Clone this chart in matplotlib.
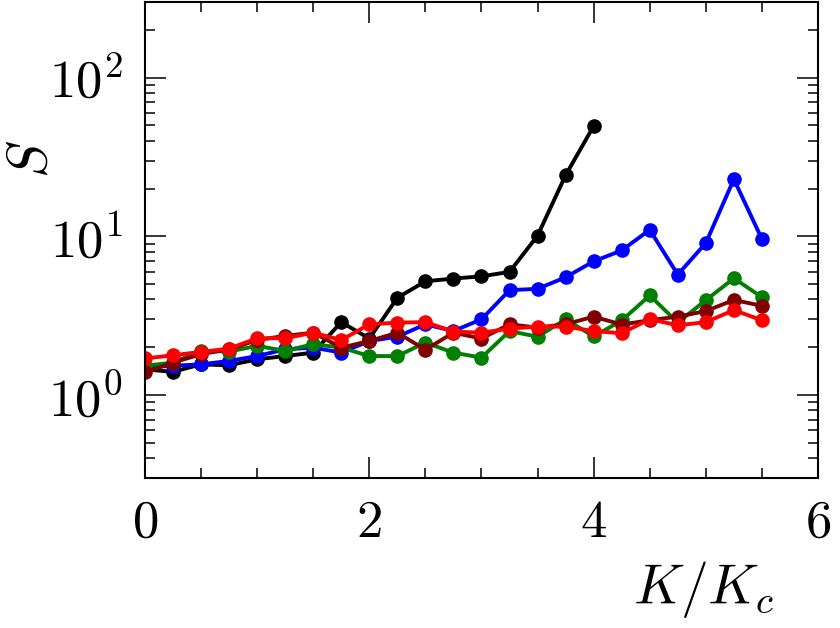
import numpy as np
import matplotlib
matplotlib.use("Agg")
import matplotlib.pyplot as plt
from matplotlib.ticker import MultipleLocator, LogLocator, NullFormatter

plt.rcParams['font.family'] = 'serif'
plt.rcParams['font.serif'] = ['cmr10']
plt.rcParams['mathtext.fontset'] = 'cm'
plt.rcParams['axes.formatter.use_mathtext'] = True

# K/Kc grid
k_black = np.arange(17) * 0.25
k_rest = np.arange(23) * 0.25

s_black = [1.45, 1.40, 1.56, 1.54, 1.68, 1.76, 1.85, 2.88, 2.27, 4.10, 5.21, 5.42,
           5.60, 5.97, 10.1, 24.3, 49.6]
s_blue = [1.49, 1.53, 1.56, 1.64, 1.76, 1.94, 1.99, 1.85, 2.19, 2.33, 2.79, 2.53,
          3.0, 4.58, 4.67, 5.52, 6.96, 8.15, 11.0, 5.74, 9.08, 22.9, 9.62]
s_green = [1.53, 1.60, 1.90, 1.88, 2.04, 1.90, 2.09, 1.99, 1.76, 1.76, 2.14, 1.85,
           1.72, 2.53, 2.33, 3.0, 2.34, 2.95, 4.24, 2.86, 3.96, 5.44, 4.14]
s_darkred = [1.39, 1.60, 1.81, 1.94, 2.22, 2.36, 2.47, 1.99, 2.19, 2.47, 1.93, 2.47,
             2.27, 2.79, 2.66, 2.79, 3.12, 2.78, 2.96, 3.12, 3.38, 3.97, 3.65]
s_red = [1.70, 1.78, 1.87, 1.96, 2.28, 2.28, 2.47, 2.22, 2.79, 2.86, 2.88, 2.51,
         2.47, 2.62, 2.70, 2.70, 2.53, 2.45, 3.01, 2.75, 2.88, 3.43, 2.96]

fig = plt.figure(figsize=(8.4, 6.28), dpi=100)
ax = fig.add_axes([0.1726, 0.2389, 0.8012, 0.7579])

lw = 2.8
ms = 9.5
ax.plot(k_black, s_black, '-o', color='black', lw=lw, ms=ms)
ax.plot(k_rest, s_blue, '-o', color='#0000ff', lw=lw, ms=ms)
ax.plot(k_rest, s_green, '-o', color='#008000', lw=lw, ms=ms)
ax.plot(k_rest, s_darkred, '-o', color='#800000', lw=lw, ms=ms)
ax.plot(k_rest, s_red, '-o', color='#ff0000', lw=lw, ms=ms)

ax.set_yscale('log')
ax.set_xlim(0, 6)
ax.set_ylim(0.3, 300)
ax.xaxis.set_major_locator(MultipleLocator(2))
ax.xaxis.set_minor_locator(MultipleLocator(0.5))
ax.yaxis.set_major_locator(LogLocator(base=10))
ax.yaxis.set_minor_locator(LogLocator(base=10, subs=np.arange(2, 10)))
ax.yaxis.set_minor_formatter(NullFormatter())

ax.tick_params(which='both', direction='in', top=True, right=True, width=1.1)
ax.tick_params(which='major', length=15, labelsize=38)
ax.tick_params(axis='x', which='major', pad=16)
ax.tick_params(axis='y', which='major', pad=16)
ax.tick_params(which='minor', length=7.5)
for sp in ax.spines.values():
    sp.set_linewidth(1.5)

ax.set_xlabel('$K/K_c$', fontsize=40)
ax.set_ylabel('$S$', fontsize=40)
ax.xaxis.set_label_coords(0.83, -0.17)
ax.yaxis.set_label_coords(-0.13, 0.67)

fig.savefig('out.png', dpi=100)
